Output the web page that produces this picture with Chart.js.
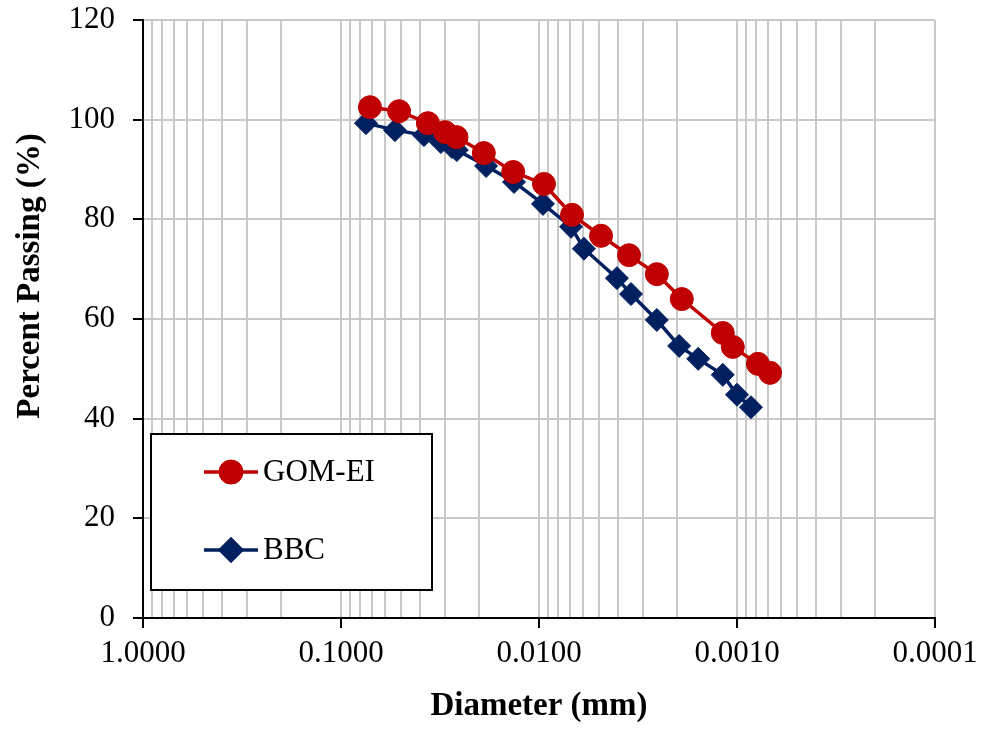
<!DOCTYPE html>
<html>
<head>
<meta charset="utf-8">
<script src="https://cdn.jsdelivr.net/npm/chart.js@4/dist/chart.umd.min.js"></script>
<style>
  html, body { margin: 0; padding: 0; background: #ffffff; }
  #wrap { width: 981px; height: 734px; }
</style>
</head>
<body>
<div id="wrap"><canvas id="c" width="981" height="734"></canvas></div>
<script>
// ---- Data ----
const gomLabel = 'GOM-EI';
const gomDiameter = [0.0714, 0.0509, 0.0364, 0.0298, 0.0261, 0.0190, 0.0135, 0.00944, 0.00681, 0.00486, 0.00351, 0.00254, 0.00190, 0.00118, 0.00105, 0.000784, 0.000681];
const gomPassing  = [102.5, 101.7, 99.3, 97.5, 96.5, 93.3, 89.5, 87.1, 80.9, 76.7, 72.8, 69.0, 64.0, 57.2, 54.4, 51.0, 49.2];

const bbcLabel = 'BBC';
const bbcDiameter = [0.0748, 0.0534, 0.0381, 0.0313, 0.0275, 0.0260, 0.0185, 0.01337, 0.00955, 0.00689, 0.00593, 0.00404, 0.00343, 0.00254, 0.00196, 0.00157, 0.00118, 0.00100, 0.000850];
const bbcPassing  = [99.3, 97.9, 96.9, 95.5, 94.5, 93.9, 90.7, 87.5, 83.1, 78.5, 74.1, 68.2, 65.0, 59.8, 54.6, 52.0, 48.8, 44.8, 42.3];

const xMajorTicks = [1, 0.1, 0.01, 0.001, 0.0001];
const yTicks = [0, 20, 40, 60, 80, 100, 120];
const xTitle = 'Diameter (mm)';
const yTitle = 'Percent Passing (%)';

const RED = '#C00000';
const BLUE = '#002060';
const GRID = '#c8c8c8';
const SERIF = '"Liberation Serif", "Times New Roman", serif';

function toPoints(xs, ys) { return xs.map((x, i) => ({ x: x, y: ys[i] })); }
function isDecade(v) {
  const l = Math.log10(v);
  return Math.abs(l - Math.round(l)) < 1e-9;
}
// gridline positions: every 1..9 multiple inside each decade
const xGridValues = [];
for (let i = xMajorTicks.length - 1; i > 0; i--) {
  const base = xMajorTicks[i];
  for (let m = 1; m <= 9; m++) xGridValues.push(+(m * base).toPrecision(6));
}
xGridValues.push(xMajorTicks[0]);

const yTitlePlugin = {
  id: 'yTitle',
  afterDraw(chart) {
    const ctx = chart.ctx;
    ctx.save();
    ctx.translate(30, chart.chartArea.top + 256);
    ctx.rotate(-Math.PI / 2);
    ctx.font = 'bold 33px ' + SERIF;
    ctx.fillStyle = '#000';
    ctx.textAlign = 'center';
    ctx.textBaseline = 'middle';
    ctx.fillText(yTitle, 0, 0);
    ctx.restore();
  }
};

const legendPlugin = {
  id: 'boxLegend',
  afterDraw(chart) {
    const ctx = chart.ctx;
    const ca = chart.chartArea;
    const bx = ca.left + 8, by = ca.top + 414, bw = 281, bh = 156;
    ctx.save();
    ctx.fillStyle = '#fff';
    ctx.fillRect(bx, by, bw, bh);
    ctx.strokeStyle = '#000';
    ctx.lineWidth = 2;
    ctx.strokeRect(bx, by, bw, bh);
    const rows = [by + 38, by + 116];
    chart.data.datasets.forEach((ds, i) => {
      const y = rows[i];
      const x0 = bx + 53, x1 = bx + 107, xm = bx + 80;
      ctx.strokeStyle = ds.borderColor;
      ctx.lineWidth = ds.borderWidth;
      ctx.beginPath();
      ctx.moveTo(x0, y); ctx.lineTo(x1, y);
      ctx.stroke();
      Chart.helpers.drawPoint(ctx, {
        pointStyle: ds.pointStyle,
        radius: ds.pointRadius - 1,
        borderWidth: 1
      }, xm, y);
      ctx.fillStyle = ds.pointBackgroundColor;
      ctx.strokeStyle = ds.pointBorderColor;
      ctx.fill();
      ctx.stroke();
      ctx.fillStyle = '#000';
      ctx.font = '31px ' + SERIF;
      ctx.textAlign = 'left';
      ctx.textBaseline = 'middle';
      ctx.fillText(ds.label, bx + 112, y + 1);
    });
    ctx.restore();
  }
};

new Chart(document.getElementById('c'), {
  type: 'scatter',
  data: {
    datasets: [
      {
        label: gomLabel,
        data: toPoints(gomDiameter, gomPassing),
        showLine: true,
        borderColor: RED,
        backgroundColor: RED,
        borderWidth: 3.5,
        pointStyle: 'circle',
        pointRadius: 11.5,
        pointBackgroundColor: RED,
        pointBorderColor: RED,
        pointBorderWidth: 1,
        tension: 0
      },
      {
        label: bbcLabel,
        data: toPoints(bbcDiameter, bbcPassing),
        showLine: true,
        borderColor: BLUE,
        backgroundColor: BLUE,
        borderWidth: 3.5,
        pointStyle: 'rectRot',
        pointRadius: 11.5,
        pointBackgroundColor: BLUE,
        pointBorderColor: BLUE,
        pointBorderWidth: 1,
        tension: 0
      }
    ]
  },
  options: {
    responsive: false,
    devicePixelRatio: 1,
    animation: false,
    layout: { padding: { left: 0, right: 46, top: 20, bottom: 0 } },
    plugins: {
      legend: { display: false },
      tooltip: { enabled: false }
    },
    scales: {
      x: {
        type: 'logarithmic',
        reverse: true,
        min: 0.0001,
        max: 1,
        afterBuildTicks(scale) {
          scale.ticks = xGridValues.map(v => ({ value: v }));
        },
        afterFit(scale) {
          scale.height = 116;
          scale.paddingLeft = 0;
          scale.paddingRight = 0;
        },
        ticks: {
          autoSkip: false,
          maxRotation: 0,
          minRotation: 0,
          padding: 7,
          color: '#000',
          font: { family: SERIF, size: 31 },
          callback(value) { return isDecade(value) ? Number(value).toFixed(4) : ''; }
        },
        grid: {
          color: GRID,
          lineWidth: 2,
          tickLength: 10,
          tickColor: (ctx) => (ctx.tick && isDecade(ctx.tick.value)) ? '#000' : 'rgba(0,0,0,0)'
        },
        border: { display: true, color: '#000', width: 2 },
        title: {
          display: true,
          text: xTitle,
          color: '#000',
          font: { family: SERIF, size: 33, weight: 'bold' },
          padding: { top: 0, bottom: 8 }
        }
      },
      y: {
        type: 'linear',
        min: 0,
        max: 120,
        afterBuildTicks(scale) {
          scale.ticks = yTicks.map(v => ({ value: v }));
        },
        afterFit(scale) {
          scale.width = 143;
          scale.paddingTop = 0;
          scale.paddingBottom = 0;
        },
        ticks: {
          padding: 18,
          color: '#000',
          font: { family: SERIF, size: 31 }
        },
        grid: {
          color: GRID,
          lineWidth: 2,
          tickLength: 10,
          tickColor: '#000'
        },
        border: { display: true, color: '#000', width: 2 }
      }
    }
  },
  plugins: [yTitlePlugin, legendPlugin]
});
</script>
</body>
</html>
